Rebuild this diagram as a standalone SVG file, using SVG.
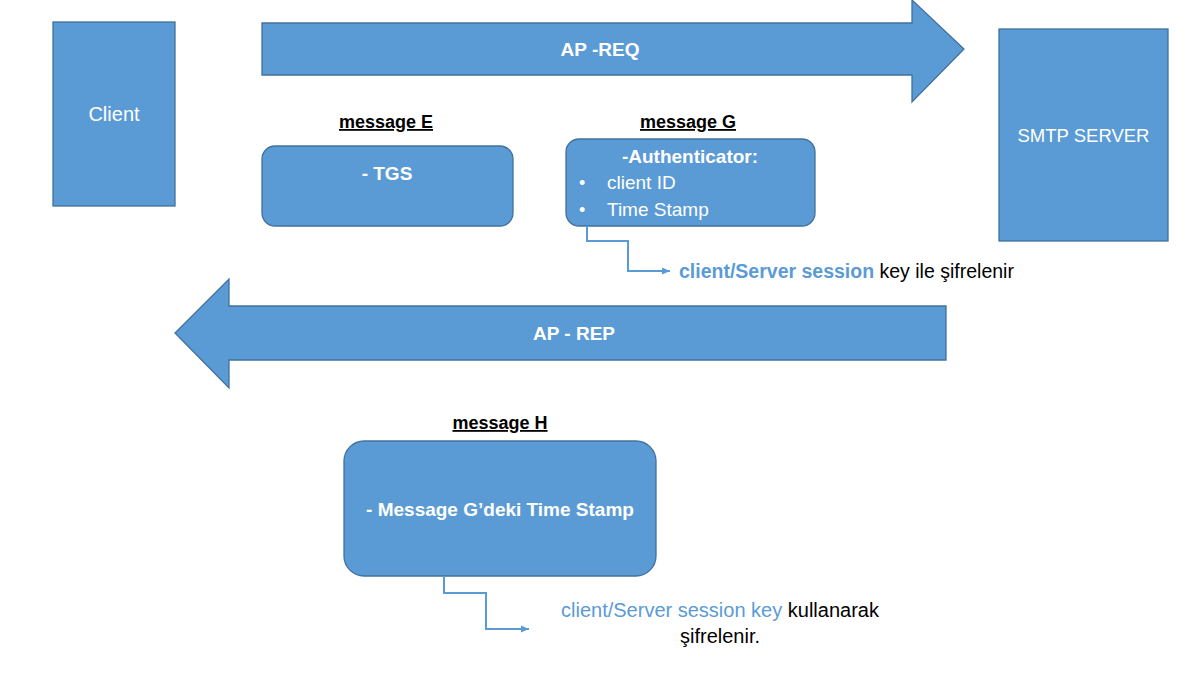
<svg xmlns="http://www.w3.org/2000/svg" width="1204" height="686" viewBox="0 0 1204 686">
<style>
.shape{fill:#5B9BD5;stroke:#41719C;stroke-width:1.3}
.w{fill:#fff;font-family:"Liberation Sans",Arial,sans-serif;font-size:20px}
.wb{fill:#fff;font-family:"Liberation Sans",Arial,sans-serif;font-size:19px;font-weight:bold}
.lbl{fill:#000;font-family:"Liberation Sans",Arial,sans-serif;font-size:18px;font-weight:bold;text-decoration:underline}
.note{font-family:"Liberation Sans",Arial,sans-serif;font-size:20px;fill:#000}
.blue{fill:#5B9BD5}
.conn{fill:none;stroke:#5B9BD5;stroke-width:2}
</style>
<defs>
<marker id="ah" markerWidth="9" markerHeight="9" refX="8" refY="4.5" orient="auto" markerUnits="userSpaceOnUse">
<path d="M0,1 L8,4.5 L0,8 Z" fill="#5B9BD5"/>
</marker>
</defs>
<rect width="1204" height="686" fill="#fff"/>
<g id="client">
<rect class="shape" x="53" y="22" width="122" height="184"/>
<text class="w" x="114" y="121" text-anchor="middle">Client</text>
</g>
<g id="smtp">
<rect class="shape" x="999" y="29" width="169" height="212"/>
<text class="w" x="1083.5" y="142" text-anchor="middle" style="font-size:18.5px">SMTP SERVER</text>
</g>
<g id="ap-req">
<path class="shape" d="M262,23 L912,23 L912,0 L964,49 L912,102 L912,75 L262,75 Z"/>
<text class="wb" x="600" y="56" text-anchor="middle">AP -REQ</text>
</g>
<g id="ap-rep">
<path class="shape" d="M946,306 L229,306 L229,279 L175,333 L229,388 L229,360 L946,360 Z"/>
<text class="wb" x="574" y="340" text-anchor="middle">AP - REP</text>
</g>
<g id="message-e">
<text class="lbl" x="386" y="128" text-anchor="middle">message E</text>
<rect class="shape" x="262" y="146" width="251" height="80" rx="13"/>
<text class="wb" x="387" y="180" text-anchor="middle">- TGS</text>
</g>
<g id="message-g">
<text class="lbl" x="688" y="128" text-anchor="middle">message G</text>
<rect class="shape" x="566" y="139" width="249" height="87" rx="13"/>
<text class="wb" x="690" y="163" text-anchor="middle">-Authenticator:</text>
<text class="w" x="579" y="189" style="font-size:18px">•</text>
<text class="w" x="607" y="189" style="font-size:19px">client ID</text>
<text class="w" x="579" y="216" style="font-size:18px">•</text>
<text class="w" x="607" y="216" style="font-size:19px">Time Stamp</text>
</g>
<g id="message-h">
<text class="lbl" x="500" y="429" text-anchor="middle">message H</text>
<rect class="shape" x="344" y="441" width="312" height="135" rx="20"/>
<text class="wb" x="500" y="516" text-anchor="middle">- Message G’deki Time Stamp</text>
</g>
<g id="connectors">
<path class="conn" d="M587,226 L587,241 L628,241 L628,271 L670,271" marker-end="url(#ah)"/>
<path class="conn" d="M444,576 L444,593 L486,593 L486,629 L529,629" marker-end="url(#ah)"/>
</g>
<g id="note-g">
<text class="note" x="679" y="278" style="font-size:19.5px"><tspan class="blue" font-weight="bold">client/Server session</tspan> key ile şifrelenir</text>
</g>
<g id="note-h">
<text class="note" x="720" y="617" text-anchor="middle"><tspan class="blue">client/Server session key</tspan> kullanarak</text>
<text class="note" x="720" y="643" text-anchor="middle">şifrelenir.</text>
</g>
</svg>
